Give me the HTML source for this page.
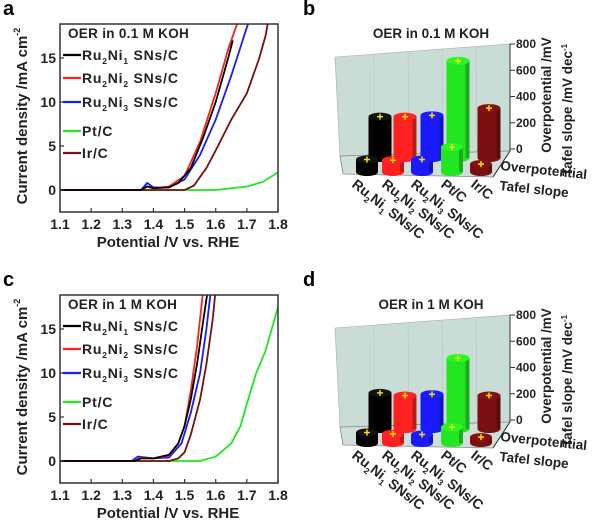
<!DOCTYPE html>
<html><head><meta charset="utf-8"><style>
html,body{margin:0;padding:0;background:#fff;}
svg{display:block;font-family:"Liberation Sans",Arial,sans-serif;}
</style></head><body>
<svg id="fig" width="600" height="524" viewBox="0 0 600 524" xmlns="http://www.w3.org/2000/svg"></svg>
<script>
// ---------- DATA ----------
const seriesNames = ["Ru2Ni1 SNs/C","Ru2Ni2 SNs/C","Ru2Ni3 SNs/C","Pt/C","Ir/C"];
const seriesColors = ["#000000","#ff2020","#1a1aff","#22e622","#7a1010"];
const xTicks = [1.1,1.2,1.3,1.4,1.5,1.6,1.7,1.8];
const yTicks = [0,5,10,15];
// panel a (0.1 M KOH): [potential, current]
const aRu2Ni1 = [[1.1,0],[1.36,0],[1.38,0.4],[1.40,0.2],[1.45,0.3],[1.48,0.8],[1.52,2.5],[1.56,6],[1.60,10],[1.64,15],[1.655,17]];
const aRu2Ni2 = [[1.1,0],[1.36,0],[1.38,0.4],[1.40,0.2],[1.45,0.4],[1.50,1.6],[1.55,5.5],[1.60,11],[1.64,16],[1.66,18],[1.67,19]];
const aRu2Ni3 = [[1.1,0],[1.36,0],[1.38,0.8],[1.40,0.3],[1.45,0.3],[1.50,1.2],[1.55,4],[1.60,8],[1.65,13],[1.70,18.5],[1.71,19.5]];
const aPt = [[1.25,0],[1.60,0],[1.70,0.4],[1.75,0.9],[1.80,2]];
const aIr = [[1.1,0],[1.50,0],[1.53,0.5],[1.57,2.5],[1.60,4.5],[1.65,8],[1.70,11],[1.74,15],[1.76,17.5],[1.77,19.5]];
// panel c (1 M KOH)
const cRu2Ni1 = [[1.1,0],[1.34,0],[1.36,0.3],[1.40,0.3],[1.45,0.7],[1.48,2],[1.50,4],[1.52,7],[1.54,11],[1.56,16],[1.575,19.5]];
const cRu2Ni2 = [[1.1,0],[1.34,0],[1.36,0.4],[1.40,0.3],[1.45,0.6],[1.48,2],[1.50,4],[1.52,8],[1.54,13],[1.56,19.5]];
const cRu2Ni3 = [[1.1,0],[1.33,0],[1.35,0.5],[1.40,0.3],[1.45,0.4],[1.49,2],[1.52,5.5],[1.55,10],[1.57,15],[1.585,19.5]];
const cPt = [[1.31,0],[1.55,0],[1.60,0.5],[1.65,2],[1.68,4],[1.70,6.5],[1.73,10],[1.76,12.5],[1.80,17.5]];
const cIr = [[1.1,0],[1.45,0],[1.48,0.3],[1.50,1],[1.52,3],[1.55,7],[1.57,11],[1.59,16],[1.60,19.5]];
// bar panels
const barCategories = ["Ru2Ni1 SNs/C","Ru2Ni2 SNs/C","Ru2Ni3 SNs/C","Pt/C","Ir/C"];
const bOverpotential = [315,315,325,740,380];
const bTafel = [95,90,95,190,60];
const dOverpotential = [275,255,265,540,255];
const dTafel = [80,70,65,120,45];
const barTicks = [0,200,400,600,800];

// ---------- HELPERS ----------
const NS="http://www.w3.org/2000/svg";
const svg=document.getElementById('fig');
function el(tag,attrs,parent){const e=document.createElementNS(NS,tag);for(const k in attrs)e.setAttribute(k,attrs[k]);(parent||svg).appendChild(e);return e;}
function txt(str,attrs,parent){const t=el('text',attrs,parent);t.textContent=str;return t;}
function labelWithSubs(parent,x,y,name,size,anchor){
  const t=el('text',{x:x,y:y,'font-size':size,'font-weight':'bold','text-anchor':anchor||'start'},parent);
  const m=name.match(/^Ru2Ni(\d)(.*)$/);
  if(m){
    const parts=[["Ru",0],["2",1],["Ni",0],[m[1],1],[m[2],0]];
    parts.forEach(p=>{const s=el('tspan',{},t);s.textContent=p[0];if(p[1]){s.setAttribute('font-size',size*0.6);s.setAttribute('dy',size*0.3);}else if(t.childNodes.length>1){s.setAttribute('dy',-size*0.3);}});
  } else t.textContent=name;
  return t;
}

// ---------- LINE PANELS ----------
function linePanel(oy,letter,title,data,nm){
  const g=el('g',{});
  
  
  const L=60,R=278,T=24+oy,B=212+oy,zeroY=190+oy,pxPer=8.8;
  const X=v=>L+(v-1.1)/(0.7)*(R-L);
  const Y=v=>zeroY-v*pxPer;
  const pl=txt(letter,{x:3,y:15+oy,'font-size':20,'font-weight':'bold'},g);
  
  
  const cid='clip'+letter;
  const cp=el('clipPath',{id:cid},g);el('rect',{x:L,y:T,width:R-L,height:B-T},cp);
  const lines=el('g',{'clip-path':'url(#'+cid+')'},g);
  [3,4,2,1,0].forEach(i=>{
    const ser=data[i];
    const p=el('polyline',{points:ser.map(d=>X(d[0]).toFixed(1)+','+Y(d[1]).toFixed(1)).join(' '),fill:'none',stroke:seriesColors[i],'stroke-width':1.8},lines);
    
    
  });
  const frame=el('rect',{x:L,y:T,width:R-L,height:B-T,fill:'none',stroke:'#333','stroke-width':1.5},g);
  
  
  xTicks.forEach(v=>{
    el('line',{x1:X(v),x2:X(v),y1:B,y2:B-4,stroke:'#333','stroke-width':1.2},g);
    const t=txt(v.toFixed(1),{x:X(v),y:B+17,'font-size':14,'font-weight':'bold','text-anchor':'middle',fill:'#222'},g);
    
    
  });
  yTicks.forEach(v=>{
    el('line',{x1:L,x2:L+4,y1:Y(v),y2:Y(v),stroke:'#333','stroke-width':1.2},g);
    const t=txt(String(v),{x:L-4,y:Y(v)+5,'font-size':14,'font-weight':'bold','text-anchor':'end',fill:'#222'},g);
    
    
  });
  const xt=txt('Potential /V vs. RHE',{x:168,y:B+35,'font-size':15,'font-weight':'bold','text-anchor':'middle',fill:'#222'},g);
  
  
  const yt=el('text',{x:0,y:0,transform:'translate(27,'+(116+oy)+') rotate(-90)','font-size':15,'font-weight':'bold','text-anchor':'middle',fill:'#222'},g);
  yt.textContent='Current density /mA cm';
  const sup=el('tspan',{'font-size':9,dy:-7},yt);sup.textContent='-2';
  
  
  const lg=el('g',{},g);
  
  
  txt(title,{x:68,y:38+oy,'font-size':13.5,'font-weight':'bold',fill:'#222','letter-spacing':'0.3'},lg);
  const ly=[55,78,102,131,153];
  seriesNames.forEach((n,i)=>{
    const e=el('g',{},lg);
    
    
    el('line',{x1:63,x2:81,y1:ly[i]+oy,y2:ly[i]+oy,stroke:seriesColors[i],'stroke-width':2.2},e);
    const t=labelWithSubs(e,82,ly[i]+oy+5,n,14);
    t.setAttribute('letter-spacing','0.8');
    t.setAttribute('fill','#222');
  });
}
linePanel(0,'a','OER in 0.1 M KOH',[aRu2Ni1,aRu2Ni2,aRu2Ni3,aPt,aIr],'panel-a-chart');
linePanel(271,'c','OER in 1 M KOH',[cRu2Ni1,cRu2Ni2,cRu2Ni3,cPt,cIr],'panel-c-chart');

// ---------- 3D BAR PANELS ----------
function shade(hex,f){const n=parseInt(hex.slice(1),16);let r=n>>16,g=(n>>8)&255,b=n&255;r=Math.round(r*f);g=Math.round(g*f);b=Math.round(b*f);return 'rgb('+Math.min(255,r)+','+Math.min(255,g)+','+Math.min(255,b)+')';}
function bar(parent,cx,base,h,color,w,nm){
  const g=el('g',{},parent);
  
  
  const x=cx-w/2,top=base-h;
  el('ellipse',{cx:cx,cy:base,rx:w/2,ry:4,fill:color},g);
  el('rect',{x:x,y:top,width:w,height:h,fill:color},g);
  el('rect',{x:x+w-4,y:top,width:4,height:h,fill:shade(color,0.75)},g);
  el('ellipse',{cx:cx,cy:top,rx:w/2,ry:4,fill:color==='#000000'?'#111':shade(color,1.08)},g);
  el('path',{d:'M'+(cx-3)+' '+top+'h6M'+cx+' '+(top-3)+'v6',stroke:'#f5e000','stroke-width':1.5},g);
}
function barPanel(oy,letter,title,over,tafel,nm){
  const g=el('g',{});
  
  
  const pl=txt(letter,{x:303,y:15+oy,'font-size':20,'font-weight':'bold'},g);
  
  
  const tt=txt(title,{x:431,y:38+oy,'font-size':13.5,'font-weight':'bold','text-anchor':'middle',fill:'#222'},g);
  
  
  const wall=el('polygon',{points:`335,${57+oy} 510,${44+oy} 510,${151+oy} 340,${156+oy}`,fill:'#c9dcd6',stroke:'#aab','stroke-width':0.6},g);
  
  
  for(let i=1;i<5;i++){const xx=340+i*34;el('line',{x1:xx,y1:57+oy-i*2.6,x2:xx+1,y2:155+oy-i*1,stroke:'#b5c8c2','stroke-width':0.6},g);}
  const floor=el('polygon',{points:`340,${156+oy} 510,${151+oy} 493,${177+oy} 343,${174+oy}`,fill:'#cfe0da',stroke:'#888','stroke-width':0.8},g);
  
  
  const sc=105/800, zeroY=149+oy;
  el('line',{x1:510,y1:44+oy,x2:510,y2:151+oy,stroke:'#333','stroke-width':1},g);
  el('line',{x1:510,y1:151+oy,x2:493,y2:177+oy,stroke:'#333','stroke-width':1},g);
  barTicks.forEach(v=>{const y=zeroY-v*sc;el('line',{x1:510,x2:515,y1:y,y2:y,stroke:'#333'},g);
    const t=txt(String(v),{x:516,y:y+4,'font-size':12,'font-weight':'bold',fill:'#222'},g);
    
    });
  const backCx=[380,405,432,458,489], frontCx=[367,393,422,452,481];
  over.forEach((v,i)=>bar(g,backCx[i],158+oy,v*sc,seriesColors[i],23,'bar-overpotential-'+i));
  tafel.forEach((v,i)=>bar(g,frontCx[i],172+oy,v*sc,seriesColors[i],22,'bar-tafel-'+i));
  const a1=el('text',{transform:`translate(500,${170+oy}) rotate(6)`,'font-size':13.5,'font-weight':'bold',fill:'#222'},g);a1.textContent='Overpotential';
  
  
  const a2=el('text',{transform:`translate(499,${190+oy}) rotate(6)`,'font-size':13.5,'font-weight':'bold',fill:'#222'},g);a2.textContent='Tafel slope';
  
  
  const r1=el('text',{transform:`translate(551,${95+oy}) rotate(-90)`,'font-size':13.5,'font-weight':'bold','text-anchor':'middle',fill:'#222'},g);r1.textContent='Overpotential /mV';
  
  
  const r2=el('text',{transform:`translate(572,${110+oy}) rotate(-90)`,'font-size':13.5,'font-weight':'bold','text-anchor':'middle',fill:'#222'},g);r2.textContent='Tafel slope /mV dec';
  const s2=el('tspan',{'font-size':8,dy:-5},r2);s2.textContent='-1';
  
  
  barCategories.forEach((c,i)=>{
    const lx=[351,381,410,440,470][i];
    const t=labelWithSubs(g,0,0,c,14);
    t.setAttribute('transform',`translate(${lx},${186+oy}) rotate(38)`);
    t.setAttribute('fill','#222');
    
    
  });
}
barPanel(0,'b','OER in 0.1 M KOH',bOverpotential,bTafel,'panel-b-chart');
barPanel(271,'d','OER in 1 M KOH',dOverpotential,dTafel,'panel-d-chart');
</script>
</body></html>
